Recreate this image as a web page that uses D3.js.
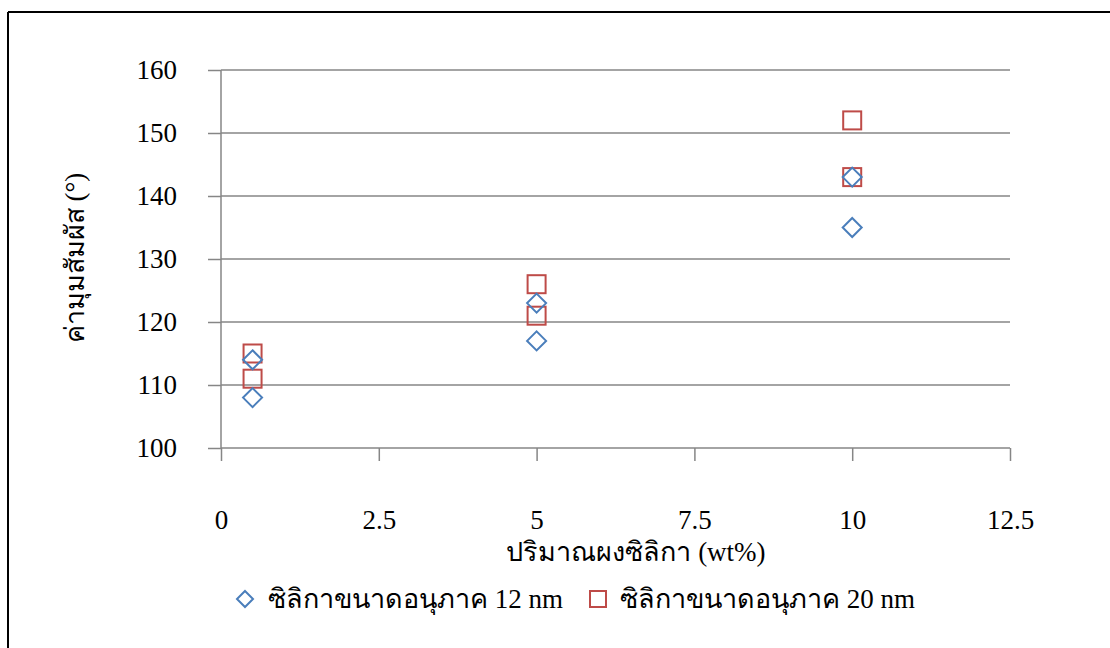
<!DOCTYPE html>
<html><head><meta charset="utf-8">
<script src="https://cdnjs.cloudflare.com/ajax/libs/d3/7.8.5/d3.min.js"></script>
<style>body{margin:0;background:#fff}svg{display:block}</style>
</head><body>
<script>
const xTicks = [0, 2.5, 5, 7.5, 10, 12.5];
const yTicks = [100, 110, 120, 130, 140, 150, 160];
const s12x = [0.5, 0.5, 5, 5, 10, 10];
const s12y = [108, 114, 117, 123, 135, 143];
const s20x = [0.5, 0.5, 5, 5, 10, 10];
const s20y = [111, 115, 121, 126, 143, 152];
const seriesNames = ["ซิลิกาขนาดอนุภาค 12 nm", "ซิลิกาขนาดอนุภาค 20 nm"];
const xTitle = "ปริมาณผงซิลิกา (wt%)";
const yTitle = "ค่ามุมสัมผัส (°)";

const W = 1110, H = 648;
const svg = d3.select("body").append("svg").attr("width", W).attr("height", H);
const font = "'Liberation Serif','Times New Roman',serif";
const gray = "#868686";

// outer frame (top + left)
svg.append("line").attr("x1", 8).attr("x2", W).attr("y1", 12).attr("y2", 12).attr("stroke", "#000").attr("stroke-width", 2);
svg.append("line").attr("x1", 8).attr("x2", 8).attr("y1", 12).attr("y2", H).attr("stroke", "#000").attr("stroke-width", 2);

const x = d3.scaleLinear().domain([0, 12.5]).range([221, 1010]);
const y = d3.scaleLinear().domain([100, 160]).range([448, 70]);

// gridlines
svg.append("g").selectAll("line").data(yTicks.filter(d => d > 100)).join("line")
  .attr("x1", 221).attr("x2", 1010).attr("y1", d => y(d)).attr("y2", d => y(d))
  .attr("stroke", gray).attr("stroke-width", 1.5);

// y axis
const ya = svg.append("g").attr("transform", "translate(221,0)")
  .call(d3.axisLeft(y).tickValues(yTicks).tickSize(13).tickPadding(31).tickFormat(d3.format("d")));
ya.select(".domain").attr("stroke", gray).attr("stroke-width", 1.5).attr("d", `M0,${y(160)}V${y(100)}`);
ya.selectAll(".tick line").attr("stroke", gray).attr("stroke-width", 1.5);
ya.selectAll("text").attr("font-family", font).attr("font-size", 27).attr("fill", "#000");

// x axis
const xa = svg.append("g").attr("transform", "translate(0,448)")
  .call(d3.axisBottom(x).tickValues(xTicks).tickSize(13).tickPadding(49).tickFormat(d => String(d)));
xa.select(".domain").attr("stroke", gray).attr("stroke-width", 1.5).attr("d", `M${x(0)},0H${x(12.5)}`);
xa.selectAll(".tick line").attr("stroke", gray).attr("stroke-width", 1.5);
xa.selectAll("text").attr("font-family", font).attr("font-size", 27).attr("fill", "#000");

// markers
const blue = "#4a7ebb", red = "#be4b48";
const diamond = (cx, cy, r) => `M${cx},${cy - r}L${cx + r},${cy}L${cx},${cy + r}L${cx - r},${cy}Z`;
const s20 = s20x.map((v, i) => [v, s20y[i]]);
const s12 = s12x.map((v, i) => [v, s12y[i]]);
svg.append("g").selectAll("rect").data(s20).join("rect")
  .attr("x", d => x(d[0]) - 9).attr("y", d => y(d[1]) - 9).attr("width", 18).attr("height", 18)
  .attr("fill", "none").attr("stroke", red).attr("stroke-width", 2);
svg.append("g").selectAll("path").data(s12).join("path")
  .attr("d", d => diamond(x(d[0]), y(d[1]), 9.5))
  .attr("fill", "none").attr("stroke", blue).attr("stroke-width", 2);

// titles
svg.append("text").attr("x", 636).attr("y", 561).attr("text-anchor", "middle")
  .attr("font-family", font).attr("font-size", 27).text(xTitle);
svg.append("text").attr("transform", "translate(84,258) rotate(-90)").attr("text-anchor", "middle")
  .attr("font-family", font).attr("font-size", 27).text(yTitle);

// legend
const lg = svg.append("g");
lg.append("path").attr("d", diamond(245, 599, 8)).attr("fill", "none").attr("stroke", blue).attr("stroke-width", 2);
lg.append("text").attr("x", 268).attr("y", 608).attr("font-family", font).attr("font-size", 27).text(seriesNames[0]);
lg.append("rect").attr("x", 590).attr("y", 591).attr("width", 16).attr("height", 16).attr("fill", "none").attr("stroke", red).attr("stroke-width", 2);
lg.append("text").attr("x", 620).attr("y", 608).attr("font-family", font).attr("font-size", 27).text(seriesNames[1]);
</script>
</body></html>
